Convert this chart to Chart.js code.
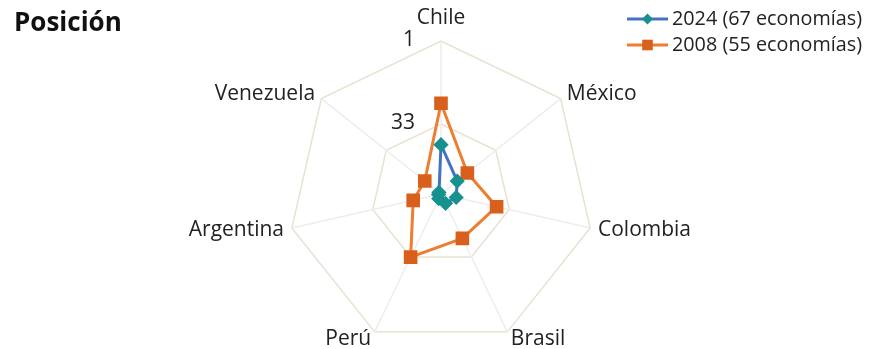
<!DOCTYPE html>
<html lang="es">
<head>
  <meta charset="UTF-8" />
  <title>Posición</title>
  <script src="https://cdn.jsdelivr.net/npm/chart.js"></script>
  <style>
    html, body { margin: 0; padding: 0; background: #fff; }
    #wrap { position: relative; width: 874px; height: 349px; }
  </style>
</head>
<body>
<div id="wrap"><canvas id="radar" width="874" height="349"></canvas></div>

<script>
  // posiciones (1 = mejor, eje invertido)
  const paises = ['Chile', 'México', 'Colombia', 'Brasil', 'Perú', 'Argentina', 'Venezuela'];
  const pos2024 = [41, 52, 54, 56, 58, 59, 59];
  const pos2008 = [25, 47, 38, 41, 33, 49, 52];
  const nombres = ['2024 (67 economías)', '2008 (55 economías)'];
  const marcas = [1, 33];
  const ejeMin = 1;
  const ejeMax = 60;

  const FUENTE = '"Open Sans", "Noto Sans", sans-serif';

  // rótulos de ejes, marcas y leyenda dibujados a mano
  const rotulos = {
    id: 'rotulos',
    afterDraw(chart) {
      const ctx = chart.ctx;
      const r = chart.scales.r;
      const R = r.drawingArea;
      ctx.save();
      ctx.fillStyle = '#222';
      ctx.font = '21px ' + FUENTE;
      ctx.textBaseline = 'middle';

      chart.data.labels.forEach((lab, i) => {
        const p = r.getPointPosition(i, R + (i === 0 ? 23 : 8));
        const dx = p.x - r.xCenter;
        ctx.textAlign = Math.abs(dx) < 1 ? 'center' : (dx > 0 ? 'left' : 'right');
        ctx.fillText(lab, p.x, p.y);
      });

      ctx.textAlign = 'right';
      marcas.forEach(v => {
        const d = r.getDistanceFromCenterForValue(v);
        ctx.fillText(String(v), r.xCenter - 26, r.yCenter - d - 1);
      });

      // leyenda
      ctx.font = '19.8px ' + FUENTE;
      ctx.textAlign = 'left';
      chart.data.datasets.forEach((ds, i) => {
        const y = 19 + i * 26;
        ctx.strokeStyle = ds.borderColor;
        ctx.lineWidth = 3;
        ctx.beginPath();
        ctx.moveTo(627, y);
        ctx.lineTo(668, y);
        ctx.stroke();
        ctx.fillStyle = ds.pointBackgroundColor;
        ctx.strokeStyle = ds.pointBorderColor;
        ctx.lineWidth = 1;
        Chart.helpers.drawPoint(ctx, { pointStyle: ds.pointStyle, radius: ds.pointRadius, rotation: 0 }, 647.5, y);
        ctx.fillStyle = '#222';
        ctx.fillText(nombres[i], 672, y);
      });
      ctx.restore();
    }
  };

  new Chart(document.getElementById('radar'), {
    type: 'radar',
    data: {
      labels: paises,
      datasets: [
        {
          label: nombres[0],
          data: pos2024,
          borderColor: '#4472C4',
          borderWidth: 3,
          pointStyle: 'rectRot',
          pointRadius: 5.5,
          pointBackgroundColor: '#17918E',
          pointBorderColor: '#17918E',
          fill: false,
          tension: 0
        },
        {
          label: nombres[1],
          data: pos2008,
          borderColor: '#ED7D31',
          borderWidth: 3,
          pointStyle: 'rect',
          pointRadius: 7.5,
          pointBackgroundColor: '#D95F1C',
          pointBorderColor: '#D95F1C',
          fill: false,
          tension: 0
        }
      ]
    },
    options: {
      responsive: false,
      animation: false,
      layout: { padding: { left: 14, right: 6, top: 0, bottom: 1 } },
      scales: {
        r: {
          min: ejeMin,
          max: ejeMax,
          reverse: true,
          afterBuildTicks: s => { s.ticks = [ejeMax, ...marcas.slice().reverse()].map(v => ({ value: v })); },
          ticks: { display: false },
          pointLabels: { display: false },
          grid: { color: '#E7E2D1', lineWidth: 1.5 },
          angleLines: { color: '#EDEDED', lineWidth: 1.5 }
        }
      },
      plugins: {
        legend: { display: false },
        tooltip: { enabled: false },
        title: {
          display: true,
          text: 'Posición',
          align: 'start',
          color: '#111',
          font: { family: FUENTE, size: 26, weight: 'bold' },
          padding: { top: 8, bottom: 2.6 }
        }
      }
    },
    plugins: [rotulos]
  });
</script>
</body>
</html>
